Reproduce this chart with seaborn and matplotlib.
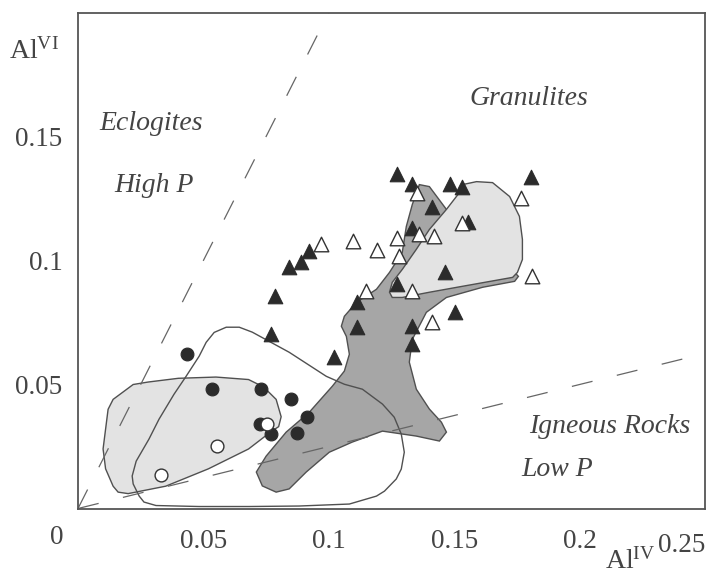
import matplotlib
matplotlib.use("Agg")
import matplotlib.pyplot as plt
import seaborn as sns
import pandas as pd
import numpy as np

# ---------------- data ----------------
# filled triangles
ftri_x = [0.127, 0.133, 0.1485, 0.1533, 0.1808, 0.141, 0.133, 0.1557, 0.0922, 0.089, 0.0842,
          0.0786, 0.077, 0.1273, 0.1465, 0.1114, 0.1114, 0.133, 0.133, 0.1505, 0.1022]
ftri_y = [0.1347, 0.131, 0.131, 0.1298, 0.1335, 0.1214, 0.1133, 0.1157, 0.1037, 0.0992, 0.0972,
          0.0856, 0.0703, 0.0904, 0.0952, 0.0831, 0.0731, 0.0735, 0.0662, 0.0791, 0.061]
# open triangles
otri_x = [0.1353, 0.1768, 0.1533, 0.097, 0.1098, 0.1194, 0.1273, 0.1361, 0.1421, 0.1281,
          0.115, 0.133, 0.1812, 0.1413]
otri_y = [0.1274, 0.1254, 0.1153, 0.1065, 0.1077, 0.1041, 0.1089, 0.1105, 0.1097, 0.1017,
          0.0876, 0.0876, 0.0936, 0.0751]
# filled circles
fcir_x = [0.0435, 0.0535, 0.0731, 0.085, 0.0727, 0.077, 0.0914, 0.0874]
fcir_y = [0.0622, 0.0481, 0.0481, 0.0441, 0.034, 0.030, 0.0368, 0.0304]
# open circles
ocir_x = [0.0754, 0.0555, 0.0331]
ocir_y = [0.034, 0.0252, 0.0135]

# light field, lower left (eclogite samples)
regA_x = [0.018, 0.022, 0.028, 0.040, 0.055, 0.068, 0.074, 0.079, 0.081, 0.080, 0.077, 0.068,
          0.052, 0.035, 0.020, 0.016, 0.014, 0.011, 0.010, 0.011, 0.012, 0.014]
regA_y = [0.047, 0.050, 0.051, 0.0525, 0.053, 0.052, 0.049, 0.044, 0.037, 0.033, 0.031, 0.024,
          0.016, 0.009, 0.006, 0.0066, 0.009, 0.016, 0.024, 0.032, 0.040, 0.044]
# open outlined field
regB_x = [0.0591, 0.0643, 0.0695, 0.0842, 0.099, 0.1062, 0.1134, 0.1214, 0.1261, 0.1289, 0.1301,
          0.1289, 0.1269, 0.1222, 0.119, 0.1082, 0.0882, 0.0683, 0.0483, 0.0311, 0.0263, 0.0244,
          0.022, 0.0216, 0.0232, 0.0283, 0.0323, 0.0383, 0.0431, 0.0483, 0.0511, 0.0543]
regB_y = [0.0731, 0.0731, 0.0711, 0.063, 0.0533, 0.0501, 0.0481, 0.0421, 0.0368, 0.030, 0.0227,
          0.0159, 0.0119, 0.007, 0.005, 0.0018, 0.001, 0.0008, 0.0008, 0.0012, 0.0026, 0.005,
          0.0099, 0.0131, 0.0191, 0.028, 0.036, 0.0461, 0.0533, 0.0614, 0.067, 0.071]
# dark field
regC_x = [0.0735, 0.079, 0.0842, 0.091, 0.1002, 0.1094, 0.1214, 0.1349, 0.1441, 0.1469, 0.1449,
          0.1401, 0.1349, 0.1321, 0.1333, 0.1389, 0.1469, 0.1613, 0.1741, 0.1756, 0.1741, 0.1561,
          0.1469, 0.1401, 0.1361, 0.1333, 0.1309, 0.1293, 0.1242, 0.119, 0.111, 0.1062, 0.105,
          0.107, 0.1082, 0.1062, 0.1014, 0.0922, 0.083, 0.075, 0.0711]
regC_y = [0.0091, 0.0066, 0.0079, 0.0147, 0.0227, 0.0268, 0.0312, 0.0292, 0.0272, 0.0308, 0.0348,
          0.0401, 0.0481, 0.059, 0.0682, 0.0791, 0.0851, 0.0892, 0.0916, 0.0936, 0.0952, 0.1085,
          0.1206, 0.1298, 0.1306, 0.1226, 0.1137, 0.1033, 0.0952, 0.0884, 0.0831, 0.0775, 0.0735,
          0.0694, 0.0622, 0.0554, 0.0493, 0.0388, 0.0308, 0.0211, 0.0147]
# light field, upper right (granulite samples)
regD_x = [0.1533, 0.1589, 0.1653, 0.1721, 0.176, 0.1772, 0.1772, 0.1752, 0.1733, 0.1533, 0.1401,
          0.1293, 0.1253, 0.1242, 0.1253, 0.1293, 0.1349, 0.1401, 0.1469, 0.1521]
regD_y = [0.1306, 0.1318, 0.1314, 0.1258, 0.1178, 0.1085, 0.1004, 0.0952, 0.0932, 0.0896, 0.0872,
          0.0851, 0.0851, 0.0872, 0.0912, 0.0964, 0.1045, 0.1125, 0.1206, 0.1274]

# dividing lines through the origin (AlVI = slope * AlIV)
line_slopes = [2.0, 0.25]

xtick_vals = [0.05, 0.1, 0.15, 0.2]
xtick_labels = ["0.05", "0.1", "0.15", "0.2"]
ytick_vals = [0.05, 0.1, 0.15]
ytick_labels = ["0.05", "0.1", "0.15"]

# ---------------- styling ----------------
sns.set_style("white")
plt.rcParams["font.family"] = ["Liberation Serif", "DejaVu Serif"]
plt.rcParams["mathtext.fontset"] = "custom"
plt.rcParams["mathtext.rm"] = "Liberation Serif"
plt.rcParams["mathtext.it"] = "Liberation Serif:italic"

TXT = "#444444"
EDGE = "#505050"

fig = plt.figure(figsize=(7.11, 5.78), dpi=100)
ax = fig.add_axes([78 / 711, 1 - 508.5 / 578, (705 - 78) / 711, (508.5 - 12.5) / 578])
ax.set_xlim(0, 0.25)
ax.set_ylim(0, 0.2)

# fields
ax.fill(regA_x, regA_y, facecolor="#e3e3e3", edgecolor=EDGE, lw=1.0, zorder=1)
ax.fill(regC_x, regC_y, facecolor="#a6a6a6", edgecolor=EDGE, lw=1.0, zorder=1.2)
ax.fill(regD_x, regD_y, facecolor="#e3e3e3", edgecolor=EDGE, lw=1.0, zorder=1.4)
ax.fill(regB_x, regB_y, facecolor="none", edgecolor=EDGE, lw=1.0, zorder=1.6)

# dashed lines
for s in line_slopes:
    xs = np.array([0.0, 0.25])
    ax.plot(xs, s * xs, color="#666666", lw=0.9, dashes=(17, 20), zorder=2)

# points
df_ft = pd.DataFrame({"x": ftri_x, "y": ftri_y})
df_ot = pd.DataFrame({"x": otri_x, "y": otri_y})
df_fc = pd.DataFrame({"x": fcir_x, "y": fcir_y})
df_oc = pd.DataFrame({"x": ocir_x, "y": ocir_y})
sns.scatterplot(data=df_ft, x="x", y="y", marker="^", s=110, color="#2b2b2b",
                edgecolor="#2b2b2b", linewidth=0.8, ax=ax, zorder=3)
sns.scatterplot(data=df_ot, x="x", y="y", marker="^", s=110, color="white",
                edgecolor="#333333", linewidth=1.0, ax=ax, zorder=3.2)
sns.scatterplot(data=df_fc, x="x", y="y", marker="o", s=85, color="#2b2b2b",
                edgecolor="#2b2b2b", linewidth=0.8, ax=ax, zorder=3)
sns.scatterplot(data=df_oc, x="x", y="y", marker="o", s=85, color="white",
                edgecolor="#333333", linewidth=1.0, ax=ax, zorder=3.2)

# axes
for sp in ax.spines.values():
    sp.set_color("#555555")
    sp.set_linewidth(1.3)
ax.set_xticks(xtick_vals)
ax.set_xticklabels(xtick_labels)
ax.set_yticks(ytick_vals)
ax.set_yticklabels(ytick_labels)
ax.tick_params(axis="both", direction="inout", length=8, width=0.9, color="#555555",
               labelsize=19.5, labelcolor=TXT)
ax.tick_params(axis="x", pad=11)
ax.tick_params(axis="y", pad=7)
ax.set_xlabel("")
ax.set_ylabel("")

# extra labels
ax.text(-0.0084, -0.0143, "0", fontsize=19.5, color=TXT, ha="center", va="baseline", clip_on=False)
ax.text(0.2407, -0.0175, "0.25", fontsize=19.5, color=TXT, ha="center", va="baseline", clip_on=False)
ax.text(-0.0275, 0.1814, r"Al$^{\mathrm{VI}}$", fontsize=20, color=TXT, ha="left", va="baseline", clip_on=False)
ax.text(0.2100, -0.0244, r"Al$^{\mathrm{IV}}$", fontsize=20, color=TXT, ha="left", va="baseline", clip_on=False)

kw = dict(fontsize=20, color=TXT, style="italic", ha="left", va="baseline")
ax.text(0.0084, 0.1528, "Eclogites", **kw)
ax.text(0.0144, 0.1278, "High P", **kw)
ax.text(0.1561, 0.1628, "Granulites", **kw)
ax.text(0.1800, 0.0304, "Igneous Rocks", **kw)
ax.text(0.1768, 0.0131, "Low P", **kw)

fig.savefig("out.png", dpi=100)
